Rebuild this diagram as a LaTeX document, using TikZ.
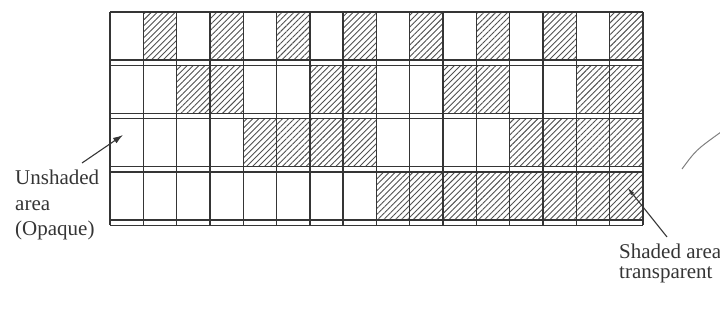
\documentclass[tikz,border=0pt]{standalone}
\usepackage{fontspec}
\setmainfont{Liberation Serif}
\usetikzlibrary{patterns.meta,arrows.meta}

\begin{document}
\begin{tikzpicture}[x=1pt,y=-1pt,>=latex,
    gridline/.style={inkgray,line width=1.4pt},
    hatched/.style={pattern={Lines[angle=45,distance=4.2pt,line width=0.9pt]},pattern color=hatchgray},
    caption/.style={inner sep=0pt,align=left,text=inkgray,font=\fontsize{21}{25.5}\selectfont},
    pointer/.style={inkgray,line width=1.1pt}]
    \definecolor{inkgray}{HTML}{353535}
    \definecolor{hatchgray}{HTML}{505050}
    \useasboundingbox (0,0) rectangle (720,324);
    % shaded cells (track r, cell c)
    \foreach \r in {0,1,2,3}
      \foreach \c in {0,...,15}{
        \pgfmathsetmacro{\ytop}{12+53.3*\r}
        \pgfmathsetmacro{\xl}{110+33.3*\c}
        \pgfmathtruncatemacro{\bit}{mod(floor(\c/2^\r),2)}
        \ifnum\bit=1
          \fill[hatched] (\xl,\ytop) rectangle ++(33.3,48);
        \fi
      }
    % track borders (double lines)
    \draw[gridline] (110,12) -- (643.3,12);
    \foreach \r in {0,1,2,3}{
      \draw[gridline] (110,12+53.3*\r+48) -- (643.3,12+53.3*\r+48);
      \draw[gridline] (110,12+53.3*\r+53.3) -- (643.3,12+53.3*\r+53.3);
    }
    % cell borders
    \foreach \c in {0,...,16}
      \draw[gridline] (110+33.3*\c,12) -- (110+33.3*\c,225.2);
    % labels
    \node[caption,anchor=north west] (opaque) at (15,170) {Unshaded\\area\\(Opaque)};
    \node[caption,anchor=north west,font=\fontsize{21}{20}\selectfont] (transp) at (619,244) {Shaded area\\transparent};
    \coordinate (optail) at (82,163);
    \coordinate (optip) at (123,135);
    \coordinate (trtail) at (667,237);
    \coordinate (trtip) at (627,187);
    \draw[pointer,-{Latex[length=10pt,width=6.5pt]}] (optail) -- (optip);
    \draw[pointer,-{Latex[length=9pt,width=4pt]}] (trtail) -- (trtip);
    % edge of the next figure
    \draw[gray,line width=1pt] (682,169) .. controls (696,150) .. (721,132);
  \end{tikzpicture}
\end{document}
